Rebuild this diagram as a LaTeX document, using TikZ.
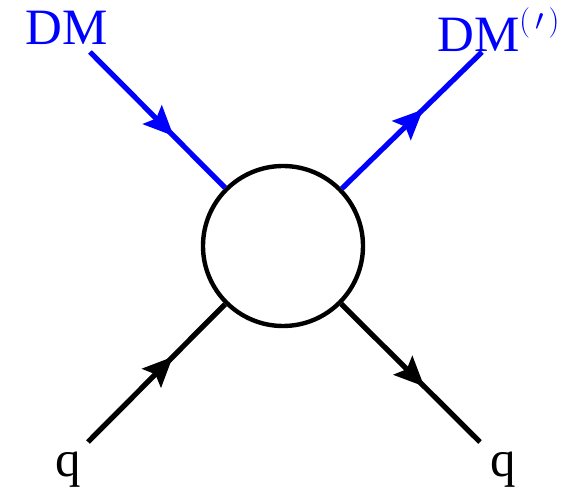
\documentclass[tikz,border=0pt]{standalone}
\usepackage{fontspec}
\setmainfont{Liberation Serif}
\usetikzlibrary{arrows.meta,decorations.markings}

\tikzset{
    fermion/.style={line width=3pt, postaction={decorate},
        decoration={markings, mark=at position #1 with {\arrow{Stealth[length=17pt,width=15pt,inset=3pt]}}}},
    fermion/.default=0.55,
    blob/.style={circle, draw, line width=2.5pt, minimum size=3.2cm, inner sep=0pt},
    lbl/.style={font=\fontsize{29}{35}\selectfont, inner sep=0pt},
}

\begin{document}
\begin{tikzpicture}
    \useasboundingbox (0,0) rectangle (11.66,9.9);

    % Effective vertex
    \node[blob] (vertex) at (5.66,4.98) {};

    % External legs
    \coordinate (dmin)  at (1.8,8.86);
    \coordinate (dmout) at (9.64,8.86);
    \coordinate (qin)   at (1.76,1.06);
    \coordinate (qout)  at (9.6,1.06);

    % Dark matter lines
    \draw[fermion=0.62, blue] (dmin) -- (vertex);
    \draw[fermion=0.58, blue] (vertex) -- (dmout);

    % Quark lines
    \draw[fermion=0.62] (qin) -- (vertex);
    \draw[fermion=0.6] (vertex) -- (qout);

    % Labels
    \node[lbl, blue, anchor=base west] (dmlbl)  at (0.5,9.0) {DM};
    \node[lbl, blue, anchor=base west] (dmplbl) at (8.74,8.86)
        {DM\raisebox{12pt}{\fontsize{16}{19}\selectfont$(\,\prime\,)$}};
    \node[lbl, anchor=base] (qinlbl)  at (1.36,0.36) {q};
    \node[lbl, anchor=base] (qoutlbl) at (10.06,0.36) {q};
\end{tikzpicture}
\end{document}
